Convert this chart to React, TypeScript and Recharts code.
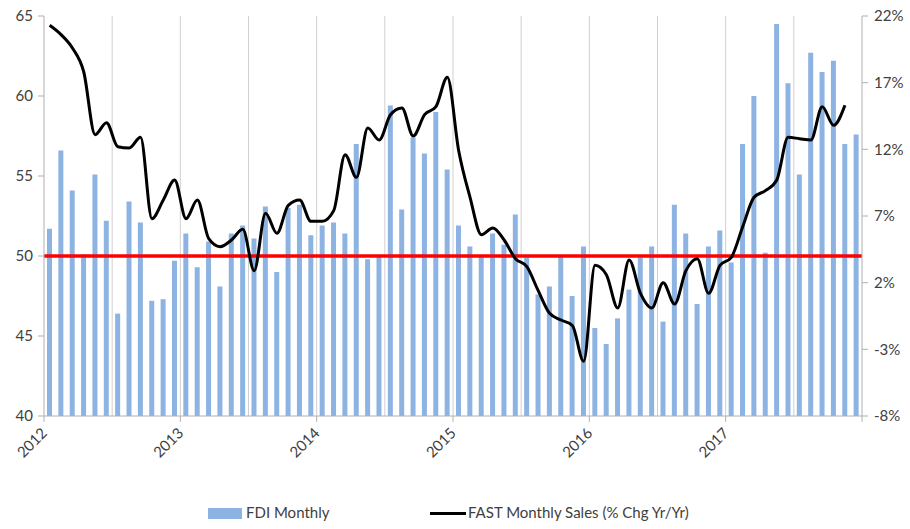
import { ComposedChart, Bar, Line, XAxis, YAxis, ReferenceLine } from 'recharts'

// monthly, Jan 2012 .. Dec 2017
const fdiMonthly = [
  51.7, 56.6, 54.1, 50.1, 55.1, 52.2, 46.4, 53.4, 52.1, 47.2, 47.3, 49.7,
  51.4, 49.3, 50.9, 48.1, 51.4, 51.9, 51.1, 53.1, 49.0, 53.0, 53.2, 51.3,
  51.9, 52.1, 51.4, 57.0, 49.8, 50.0, 59.4, 52.9, 57.4, 56.4, 59.0, 55.4,
  51.9, 50.6, 50.0, 51.4, 50.7, 52.6, 49.9, 47.6, 48.1, 50.0, 47.5, 50.6,
  45.5, 44.5, 46.1, 47.9, 49.9, 50.6, 45.9, 53.2, 51.4, 47.0, 50.6, 51.6,
  49.6, 57.0, 60.0, 50.2, 64.5, 60.8, 55.1, 62.7, 61.5, 62.2, 57.0, 57.6,
]

const fastSales = [
  21.3, 20.6, 19.6, 17.8, 13.1, 14.0, 12.2, 12.1, 12.9, 6.8, 8.2, 9.7,
  6.8, 8.2, 5.3, 4.7, 5.2, 6.0, 2.9, 7.2, 5.7, 7.8, 8.2, 6.6,
  6.6, 7.4, 11.6, 9.9, 13.6, 12.7, 14.6, 15.1, 13.0, 14.6, 15.2, 17.4,
  11.9, 8.4, 5.6, 6.1, 5.2, 3.8, 3.2, 1.4, -0.3, -0.8, -1.2, -3.9,
  3.3, 2.6, 0.1, 3.7, 1.2, 0.1, 2.0, 0.4, 2.9, 3.8, 1.2, 3.3,
  3.9, 6.2, 8.4, 8.9, 9.7, 12.9, 12.8, 12.7, 15.2, 13.8, 15.3, null,
]

const years = ['2012', '2013', '2014', '2015', '2016', '2017', '']
const yearTicks = [0, 12, 24, 36, 48, 60, 72]
const gridMonths = [6, 12, 18, 24, 30, 36, 42, 48, 54, 60, 66]
const leftTicks = [40, 45, 50, 55, 60, 65]
const rightTicks = [-8, -3, 2, 7, 12, 17, 22]

const data = fdiMonthly.map((v, i) => ({ m: i + 0.5, fdi: v, fast: fastSales[i] }))

const FONT = 'Lato, "Liberation Sans", sans-serif'
const TXT = '#404040'
const AXIS = '#b0b0b0'

function YearTick(props: any) {
  const { x, y, payload } = props
  const label = years[yearTicks.indexOf(payload.value)]
  return (
    <text
      x={x + 4}
      y={y + 10}
      transform={`rotate(-45, ${x + 4}, ${y + 10})`}
      textAnchor="end"
      fill={TXT}
      fontSize={15}
      fontFamily={FONT}
    >
      {label}
    </text>
  )
}

export default function App() {
  return (
    <div style={{ position: 'absolute', left: 0, top: 0, width: 910, height: 529, background: '#fff' }}>
      <ComposedChart width={910} height={529} data={data} margin={{ top: 16, right: 0, left: 0, bottom: 0 }}>
        <XAxis
          dataKey="m"
          type="number"
          domain={[0, 72]}
          ticks={yearTicks}
          interval={0}
          height={113}
          stroke={AXIS}
          tickSize={6}
          tick={<YearTick />}
        />
        <YAxis
          yAxisId="left"
          domain={[40, 65]}
          ticks={leftTicks}
          width={44}
          stroke={AXIS}
          tickSize={6}
          tickMargin={5}
          tick={{ fill: TXT, fontSize: 15, fontFamily: FONT }}
        />
        <YAxis
          yAxisId="right"
          orientation="right"
          domain={[-8, 22]}
          ticks={rightTicks}
          width={48}
          stroke={AXIS}
          tickSize={6}
          tickMargin={6}
          tickFormatter={(v: number) => `${v}%`}
          tick={{ fill: TXT, fontSize: 15, fontFamily: FONT }}
        />
        {gridMonths.map((g) => (
          <ReferenceLine key={g} x={g} yAxisId="left" stroke="#d0d0d0" strokeWidth={1} />
        ))}
        <Bar yAxisId="left" dataKey="fdi" fill="#8db3e2" barSize={5} isAnimationActive={false} />
        <ReferenceLine yAxisId="left" y={50} stroke="#ff0000" strokeWidth={3.5} />
        <Line
          yAxisId="right"
          dataKey="fast"
          type="monotone"
          stroke="#000"
          strokeWidth={3}
          dot={false}
          isAnimationActive={false}
        />
      </ComposedChart>
      <div
        style={{
          position: 'absolute',
          top: 503,
          left: 0,
          width: 910,
          fontFamily: FONT,
          fontSize: 15,
          color: TXT,
        }}
      >
        <div style={{ position: 'absolute', left: 208, top: 5, width: 34, height: 11, background: '#8db3e2' }} />
        <span style={{ position: 'absolute', left: 246, top: 0 }}>FDI Monthly</span>
        <div style={{ position: 'absolute', left: 430, top: 9, width: 36, height: 3, background: '#000' }} />
        <span style={{ position: 'absolute', left: 468, top: 0 }}>FAST Monthly Sales (% Chg Yr/Yr)</span>
      </div>
    </div>
  )
}
